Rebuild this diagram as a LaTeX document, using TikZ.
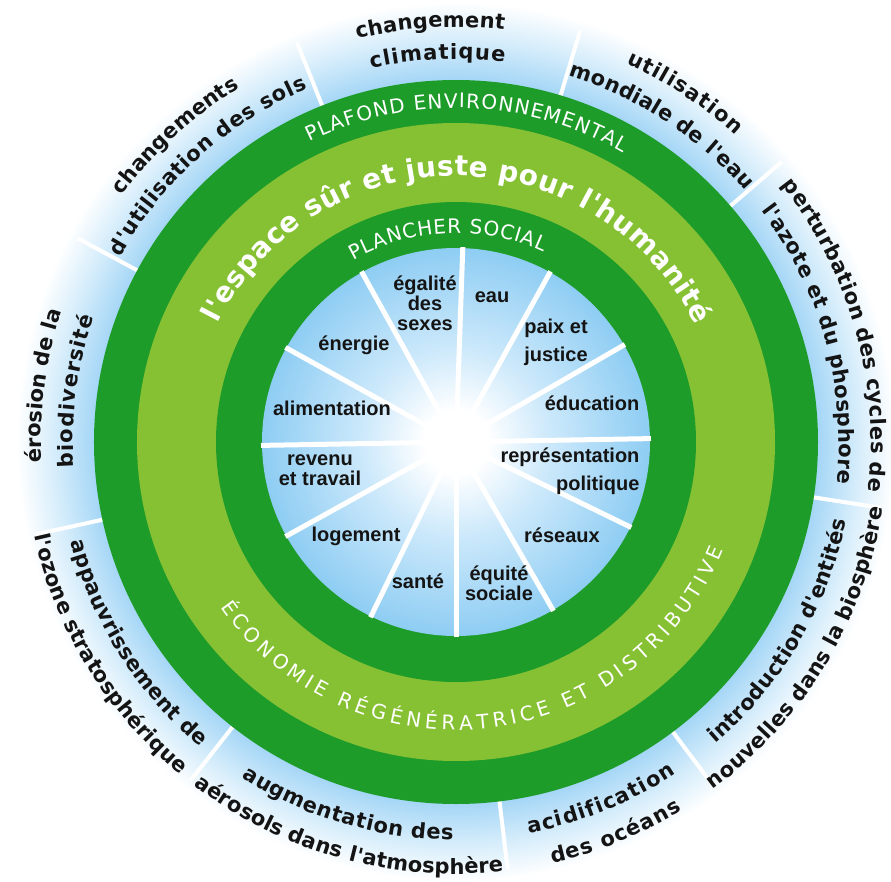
\documentclass[tikz,border=0pt]{standalone}
\usepackage{fontspec}
\setmainfont{Liberation Sans}
\newfontfamily\dejavu{DejaVu Sans}
\usepackage{xcolor}
\usepackage{tikz}
\usetikzlibrary{decorations.text}
\definecolor{darkring}{HTML}{1E9C2A}
\definecolor{lightring}{HTML}{86C134}
\definecolor{skyhalo}{HTML}{A4D6F6}
\definecolor{skyhalolight}{HTML}{D6EDFB}
\definecolor{skyinner}{HTML}{8ECDF3}
\definecolor{skyinnerlight}{HTML}{CDE9FB}
\definecolor{labelink}{HTML}{141414}

\pgfdeclareradialshading{halo}{\pgfpoint{0bp}{0bp}}{color(0bp)=(skyhalo); color(20.3bp)=(skyhalo); color(22.6bp)=(skyhalolight); color(24.7bp)=(white); color(50bp)=(white)}
\pgfdeclareradialshading{glow}{\pgfpoint{0bp}{0bp}}{color(0bp)=(white); color(4bp)=(white); color(12bp)=(skyinnerlight); color(25bp)=(skyinner); color(50bp)=(skyinner)}

\newcommand{\outerfont}{\dejavu\bfseries\fontsize{21}{21}\selectfont}
\newcommand{\labfont}{\bfseries\fontsize{20}{20}\selectfont}
\newcommand{\ringfont}{\dejavu\fontsize{20}{20}\selectfont}
\newcommand{\bigfont}{\dejavu\bfseries\fontsize{28}{28}\selectfont}

\tikzset{
  outerlab/.style={decorate, decoration={text along path, text align={fit to path}, text color=labelink, text={|\outerfont|#1}}},
  ringlab/.style={decorate, decoration={text along path, text align={fit to path}, text color=white, text={|\ringfont|#1}}},
  biglab/.style={decorate, decoration={text along path, text align={fit to path}, text color=white, text={|\bigfont|#1}}},
  inlab/.style={font=\labfont, text=labelink, align=center, inner sep=0pt}
}

\begin{document}
\begin{tikzpicture}[x=1pt,y=1pt]
\useasboundingbox (-456,-439) rectangle (435,442);
\fill [white] (-456,-439) rectangle (435,442);
%% halo and the nine boundaries
\shade [shading=halo] (0,0) circle (445pt);
\foreach \a in {40.7,73.2,111.7,151.7,192.4,231.9,276.9,306.8,351.2}
   \draw [white, line width=4pt] (\a:355pt) -- (\a:430pt);
%% doughnut
\fill [darkring] (0,0) circle (362pt);
\fill [lightring] (0,0) circle (319pt);
\fill [darkring] (0,0) circle (240pt);
\shade [shading=glow] (0,0) circle (194pt);
\foreach \a in {1,30,61,88,119,151,181,209,244,270,300,334}
   \draw [white, line width=5pt] (\a:25pt) -- (\a:195pt);

%% ceiling labels, top half (clockwise)
\path [outerlab=changement] (103.8:415pt) arc [start angle=103.8, end angle=83.3, radius=415pt];
\path [outerlab=climatique] (102.8:383pt) arc [start angle=102.8, end angle=82.7, radius=383pt];
\path [outerlab=utilisation] (65.8:415pt) arc [start angle=65.8, end angle=47.7, radius=415pt];
\path [outerlab={mondiale de l'eau}] (72.9:383pt) arc [start angle=72.9, end angle=41, radius=383pt];
\path [outerlab={perturbation des cycles de}] (38.3:415pt) arc [start angle=38.3, end angle=-6.8, radius=415pt];
\path [outerlab={l'azote et du phosphore}] (37.2:383pt) arc [start angle=37.2, end angle=-6.2, radius=383pt];
\path [outerlab={érosion de la}] (182.8:415pt) arc [start angle=182.8, end angle=161.9, radius=415pt];
\path [outerlab=biodiversité] (183.8:383pt) arc [start angle=183.8, end angle=161, radius=383pt];
\path [outerlab=changements] (143.6:415pt) arc [start angle=143.6, end angle=121.4, radius=415pt];
\path [outerlab={d'utilisation des sols}] (151.2:383pt) arc [start angle=151.2, end angle=112.8, radius=383pt];
%% ceiling labels, bottom half (counterclockwise)
\path [outerlab={appauvrissement de}] (194.5:398pt) arc [start angle=194.5, end angle=230, radius=398pt];
\path [outerlab={l'ozone stratosphérique}] (192.5:432pt) arc [start angle=192.5, end angle=230.3, radius=432pt];
\path [outerlab={augmentation des}] (237.4:398pt) arc [start angle=237.4, end angle=269.6, radius=398pt];
\path [outerlab={aérosols dans l'atmosphère}] (232.6:432pt) arc [start angle=232.6, end angle=276.3, radius=432pt];
\path [outerlab=acidification] (280.5:398pt) arc [start angle=280.5, end angle=303.6, radius=398pt];
\path [outerlab={des océans}] (282.9:432pt) arc [start angle=282.9, end angle=301.5, radius=432pt];
\path [outerlab={introduction d'entités}] (310.7:398pt) arc [start angle=310.7, end angle=348.7, radius=398pt];
\path [outerlab={nouvelles dans la biosphère}] (306.5:432pt) arc [start angle=306.5, end angle=351.2, radius=432pt];

%% ring titles
\path [ringlab={PLAFOND ENVIRONNEMENTAL}] (116:334pt) arc [start angle=116, end angle=60, radius=334pt];
\path [biglab={l'espace sûr et juste pour l'humanité}] (153.5:266pt) arc [start angle=153.5, end angle=26, radius=266pt];
\path [ringlab={PLANCHER SOCIAL}] (119.5:209pt) arc [start angle=119.5, end angle=65.3, radius=209pt];
\path [ringlab={ÉCONOMIE RÉGÉNÉRATRICE ET DISTRIBUTIVE}] (215:288pt) arc [start angle=215, end angle=338, radius=288pt];

%% social foundation
\node [inlab] (egalite) at (-31,139) {égalité\\des\\sexes};
\node [inlab] (eau) at (36,145) {eau};
\node [inlab] (paix) at (100,100) {paix et\\[8pt]justice};
\node [inlab] (education) at (136,39) {éducation};
\node [inlab, align=right] (representation) at (114,-29) {représentation\\[8pt]politique};
\node [inlab] (reseaux) at (106,-93) {réseaux};
\node [inlab] (equite) at (43,-141) {équité\\sociale};
\node [inlab] (sante) at (-38,-139) {santé};
\node [inlab] (logement) at (-100,-94) {logement};
\node [inlab] (revenu) at (-136,-28) {revenu\\et travail};
\node [inlab] (alimentation) at (-124,34) {alimentation};
\node [inlab] (energie) at (-102,97) {énergie};
\end{tikzpicture}
\end{document}
